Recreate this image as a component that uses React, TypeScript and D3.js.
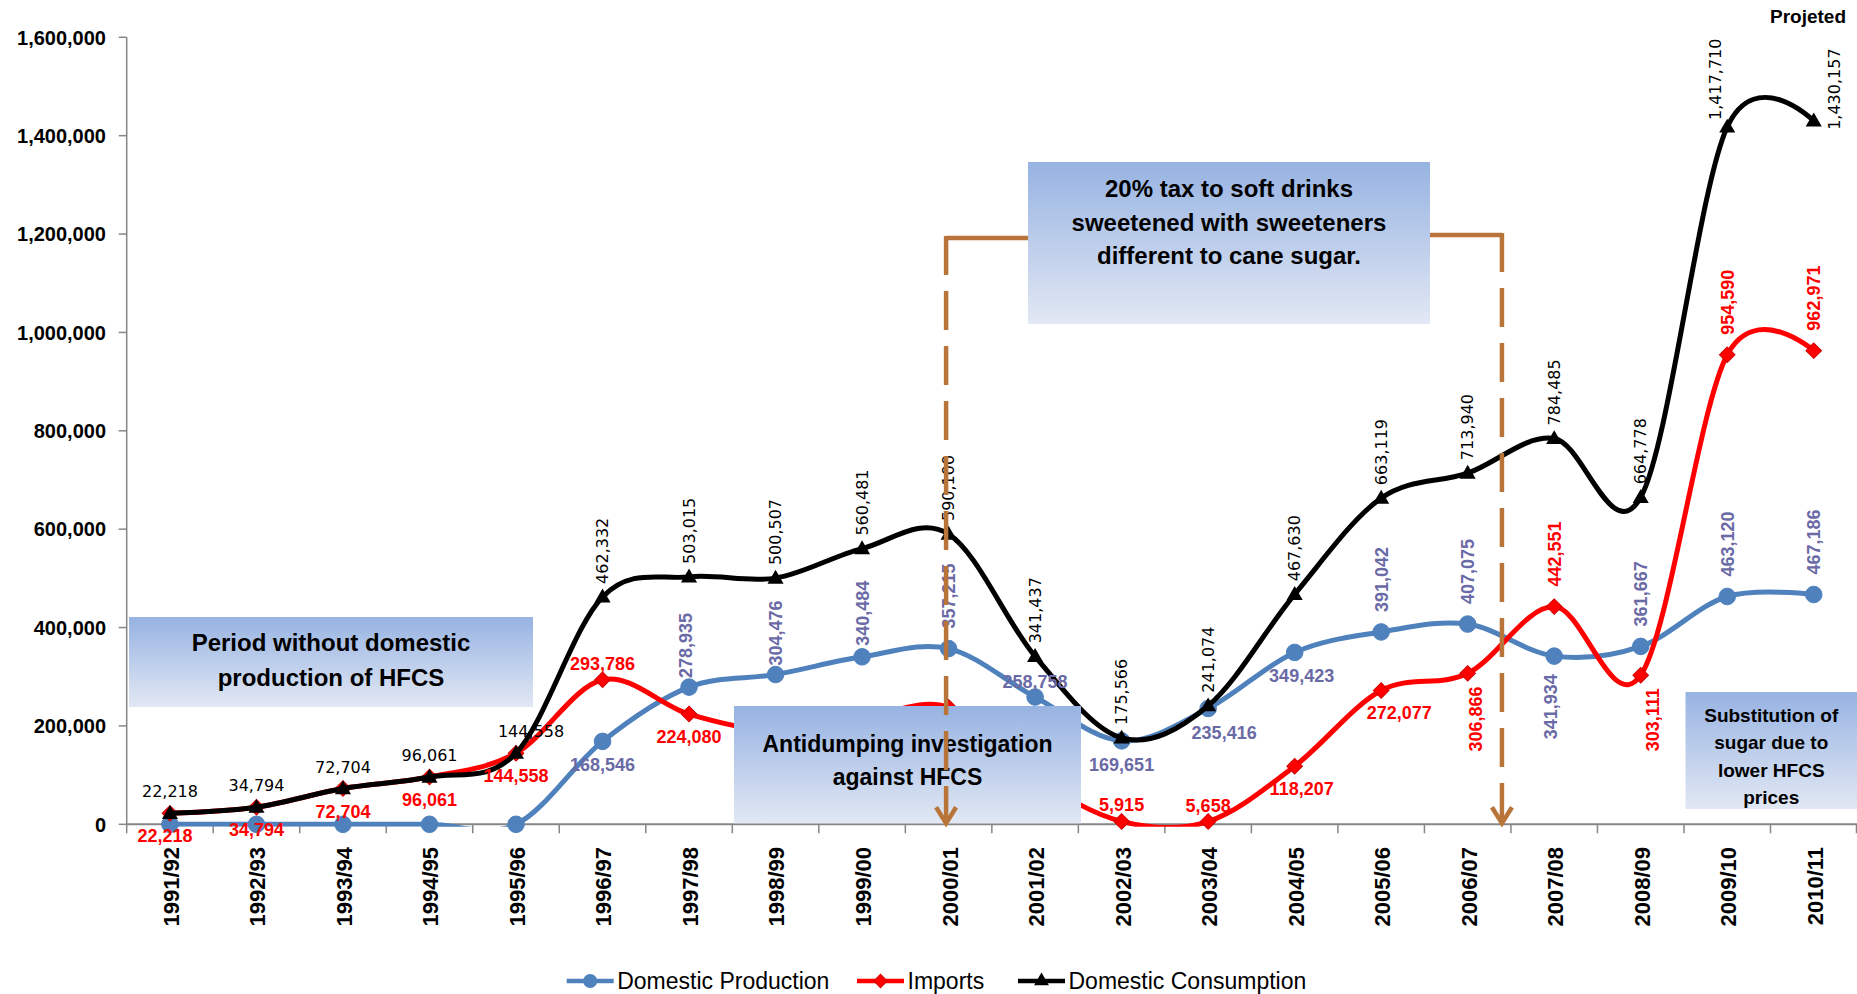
import React from 'react';
import * as d3 from 'd3';

const categories = ['1991/92','1992/93','1993/94','1994/95','1995/96','1996/97','1997/98','1998/99','1999/00','2000/01','2001/02','2002/03','2003/04','2004/05','2005/06','2006/07','2007/08','2008/09','2009/10','2010/11'];
const domesticProduction = [0,0,0,0,0,168546,278935,304476,340484,357215,258758,169651,235416,349423,391042,407075,341934,361667,463120,467186];
const imports = [22218,34794,72704,96061,144558,293786,224080,190000,215000,238000,95000,5915,5658,118207,272077,306866,442551,303111,954590,962971];
const domesticConsumption = [22218,34794,72704,96061,144558,462332,503015,500507,560481,590100,341437,175566,241074,467630,663119,713940,784485,664778,1417710,1430157];
const yTicks = [0,200000,400000,600000,800000,1000000,1200000,1400000,1600000];

// label placement codes: a = above, b = below, ra = rotated above, rb = rotated below, '' = none
const prodLabelModes = ['','','','','','b','ra','ra','ra','ra','a','b','b','b','ra','ra','rb','ra','ra','ra'];
const importLabelModes = ['b','b','b','b','b','a','b','','','','','a','a','b','b','rb','ra','rb','ra','ra'];
const consLabelModes = ['a','a','a','a','a','ra','ra','ra','ra','ra','ra','ra','ra','ra','ra','ra','ra','ra','ra','ra'];

const W = 1857, H = 994;
const plot = { left: 126.7, right: 1857, top: 37.3, bottom: 824.3 };

const BLUE = '#4F81BD', RED = '#FF0000', BLACK = '#000000', BLUE_LABEL = '#6A6AA6', BROWN = '#B9743A';
const BOLD_FONT = "'Liberation Sans', Arial, sans-serif";
const THIN_FONT = "'DejaVu Sans', Verdana, sans-serif";

type Nudge = { dx?: number; dy?: number };
const nudges: Record<string, Nudge> = {
  'imp-0': { dx: -5 },
  'imp-13': { dx: 7 },
  'imp-14': { dx: 18 },
  'imp-15': { dx: 8 },
  'imp-17': { dx: 12 },
  'prod-6': { dx: -4, dy: -9 },
  'prod-7': { dy: -9 },
  'prod-8': { dy: -11 },
  'prod-12': { dx: 16 },
  'prod-13': { dx: 7 },
  'prod-16': { dx: -4 },
  'cons-4': { dx: 15 },
  'cons-18': { dx: -12, dy: -7 },
  'cons-19': { dx: 20, dy: 9 },
};

export default function App() {
  const x = d3.scaleBand<string>().domain(categories).range([plot.left, plot.right]);
  const y = d3.scaleLinear().domain([0, 1600000]).range([plot.bottom, plot.top]);
  const bw = x.bandwidth();
  const cx = (i: number) => (x(categories[i]) as number) + bw / 2;
  const fmt = d3.format(',');
  const line = d3.line<number>().x((_, i) => cx(i)).y(d => y(d)).curve(d3.curveCatmullRom.alpha(0));

  const diamond = d3.symbol().type(d3.symbolSquare).size(121)() as string;
  const triangle = d3.symbol().type(d3.symbolTriangle).size(112)() as string;
  const diamondSmall = d3.symbol().type(d3.symbolSquare).size(90)() as string;
  const triangleSmall = d3.symbol().type(d3.symbolTriangle).size(95)() as string;

  const series = [
    { key: 'prod', values: domesticProduction, color: BLUE, modes: prodLabelModes, labelColor: BLUE_LABEL, font: BOLD_FONT, weight: 700, size: 18, defs: { a: -9, b: 30, ra: -20, rb: 18 } },
    { key: 'imp', values: imports, color: RED, modes: importLabelModes, labelColor: RED, font: BOLD_FONT, weight: 700, size: 18, defs: { a: -10, b: 29, ra: -20, rb: 13 } },
    { key: 'cons', values: domesticConsumption, color: BLACK, modes: consLabelModes, labelColor: BLACK, font: THIN_FONT, weight: 400, size: 16, defs: { a: -16, b: 29, ra: -13, rb: 15 } },
  ];

  const marker = (key: string, px: number, py: number, k: string) => {
    if (key === 'prod') return <circle key={k} cx={px} cy={py} r={8.3} fill={BLUE} stroke={BLUE} />;
    if (key === 'imp') return <path key={k} d={diamond} transform={`translate(${px},${py}) rotate(45)`} fill={RED} stroke="#D00000" strokeWidth={1} />;
    return <path key={k} d={triangle} transform={`translate(${px},${py + 1})`} fill={BLACK} />;
  };

  const labels: React.ReactNode[] = [];
  series.forEach(s => {
    s.values.forEach((v, i) => {
      const mode = s.modes[i];
      if (!mode) return;
      const n = nudges[`${s.key}-${i}`] || {};
      const px = cx(i) + (n.dx || 0);
      const py = y(v);
      const dy = n.dy !== undefined ? n.dy : (s.defs as any)[mode];
      const common = { fill: s.labelColor, fontFamily: s.font, fontWeight: s.weight, fontSize: s.size } as any;
      const k = `${s.key}-l-${i}`;
      if (mode === 'a' || mode === 'b') {
        labels.push(<text key={k} x={px} y={py + dy} textAnchor="middle" {...common}>{fmt(v)}</text>);
      } else if (mode === 'ra') {
        labels.push(<text key={k} transform={`translate(${px},${py + dy}) rotate(-90)`} textAnchor="start" dy="0.36em" {...common}>{fmt(v)}</text>);
      } else {
        labels.push(<text key={k} transform={`translate(${px},${py + dy}) rotate(-90)`} textAnchor="end" dy="0.36em" {...common}>{fmt(v)}</text>);
      }
    });
  });

  const box = (x0: number, y0: number, x1: number, y1: number, lines: string[], baselines: number[], size: number, k: string) => (
    <g key={k}>
      <rect x={x0} y={y0} width={x1 - x0} height={y1 - y0} fill="url(#boxGrad)" />
      {lines.map((t, j) => (
        <text key={j} x={(x0 + x1) / 2} y={baselines[j]} textAnchor="middle" fontFamily={BOLD_FONT} fontWeight={700} fontSize={size} fill="#000">{t}</text>
      ))}
    </g>
  );

  const leftX = cx(9) - 2.5;
  const rightX = (x('2007/08') as number) - 9;
  const arrowTip = plot.bottom - 1;
  const chevron = (ax: number) => `M${ax - 10},${arrowTip - 16} L${ax},${arrowTip} L${ax + 10},${arrowTip - 16}`;

  const legendItems = [
    { key: 'prod', label: 'Domestic Production', x0: 566.7 },
    { key: 'imp', label: 'Imports', x0: 857 },
    { key: 'cons', label: 'Domestic Consumption', x0: 1018 },
  ];
  const legendY = 981;

  return (
    <svg width={W} height={H} style={{ position: 'absolute', left: 0, top: 0, background: '#fff' }}>
      <defs>
        <linearGradient id="boxGrad" x1="0" y1="0" x2="0" y2="1">
          <stop offset="0%" stopColor="#97B3E2" />
          <stop offset="100%" stopColor="#E2E8F4" />
        </linearGradient>
        <clipPath id="plotClip">
          <rect x={plot.left} y={0} width={plot.right - plot.left} height={plot.bottom + 2.5} />
        </clipPath>
      </defs>
      <rect x={0} y={0} width={W} height={H} fill="#fff" />

      {/* y axis */}
      <line x1={plot.left} x2={plot.left} y1={plot.top} y2={plot.bottom} stroke="#868686" strokeWidth={1.5} />
      {yTicks.map(t => (
        <g key={t}>
          <line x1={plot.left - 8} x2={plot.left} y1={y(t)} y2={y(t)} stroke="#868686" strokeWidth={1.5} />
          <text x={106} y={y(t)} dy="0.36em" textAnchor="end" fontFamily={BOLD_FONT} fontWeight={700} fontSize={20} fill="#000">{fmt(t)}</text>
        </g>
      ))}

      {/* x axis */}
      <line x1={plot.left} x2={plot.right} y1={plot.bottom} y2={plot.bottom} stroke="#868686" strokeWidth={2} />
      {categories.map((c) => (
        <line key={`xt-${c}`} x1={(x(c) as number)} x2={(x(c) as number)} y1={plot.bottom} y2={plot.bottom + 9} stroke="#868686" strokeWidth={1.5} />
      ))}
      <line x1={plot.right - 0.5} x2={plot.right - 0.5} y1={plot.bottom} y2={plot.bottom + 9} stroke="#868686" strokeWidth={1.5} />
      {categories.map((c, i) => (
        <text key={`xl-${c}`} transform={`translate(${cx(i) + 1},847) rotate(-90)`} textAnchor="end" dy="0.36em" fontFamily={BOLD_FONT} fontWeight={700} fontSize={22} fill="#000">{c}</text>
      ))}

      {/* series */}
      {series.map(s => (
        <g key={s.key}>
          <path d={line(s.values) as string} fill="none" stroke={s.color} strokeWidth={5} clipPath="url(#plotClip)" strokeLinejoin="round" />
          {s.values.map((v, i) => marker(s.key, cx(i), y(v), `${s.key}-m-${i}`))}
        </g>
      ))}

      {labels}

      {/* annotation boxes */}
      {box(129, 617, 533, 707, ['Period without domestic', 'production of HFCS'], [651, 686], 24, 'b1')}
      {box(734, 706, 1081, plot.bottom - 1, ['Antidumping investigation', 'against HFCS'], [752, 785], 23, 'b2')}
      {box(1028, 162, 1430, 324, ['20% tax to soft drinks', 'sweetened with sweeteners', 'different to cane sugar.'], [197, 231, 264], 24, 'b3')}
      {box(1685.5, 692, 1857, 809, ['Substitution of', 'sugar due to', 'lower HFCS', 'prices'], [722, 749, 777, 804], 19, 'b4')}

      {/* brown bracket arrows */}
      <g stroke={BROWN} strokeWidth={4.5} fill="none">
        <line x1={leftX} x2={1028} y1={238} y2={238} />
        <line x1={leftX} x2={leftX} y1={236} y2={arrowTip - 2} strokeDasharray="39 16" />
        <path d={chevron(leftX)} strokeLinejoin="miter" />
        <line x1={1430} x2={rightX} y1={235} y2={235} />
        <line x1={rightX} x2={rightX} y1={233} y2={arrowTip - 2} strokeDasharray="39 16" />
        <path d={chevron(rightX)} strokeLinejoin="miter" />
      </g>

      {/* projected note */}
      <text x={1846} y={23} textAnchor="end" fontFamily={BOLD_FONT} fontWeight={700} fontSize={19} fill="#000">Projeted</text>

      {/* legend */}
      {legendItems.map(li => {
        const s = series.find(q => q.key === li.key)!;
        const mx = li.x0 + 23.5;
        return (
          <g key={`lg-${li.key}`}>
            <line x1={li.x0} x2={li.x0 + 47} y1={legendY} y2={legendY} stroke={s.color} strokeWidth={4.6} />
            {li.key === 'prod' && <circle cx={mx} cy={legendY} r={7} fill={BLUE} />}
            {li.key === 'imp' && <path d={diamondSmall} transform={`translate(${mx},${legendY}) rotate(45)`} fill={RED} stroke="#D00000" />}
            {li.key === 'cons' && <path d={triangleSmall} transform={`translate(${mx},${legendY})`} fill={BLACK} />}
            <text x={li.x0 + 50.5} y={988.5} fontFamily={BOLD_FONT} fontWeight={400} fontSize={23} fill="#000">{li.label}</text>
          </g>
        );
      })}
    </svg>
  );
}
